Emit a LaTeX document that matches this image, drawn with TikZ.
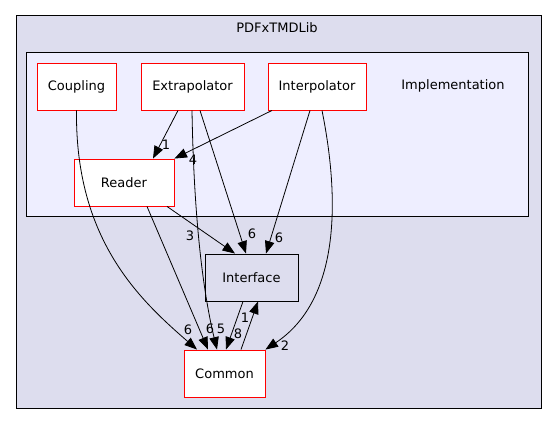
\documentclass[tikz,border=0pt]{standalone}
\usepackage{fontspec}
\setmainfont{DejaVu Sans}
\usetikzlibrary{arrows.meta}
\definecolor{outerbg}{HTML}{DDDDEE}
\definecolor{innerbg}{HTML}{EEEEFF}
\tikzset{
  dirbox/.style={rectangle, draw=red, fill=white, line width=0.9pt, minimum height=47pt, inner sep=0pt, font=\fontsize{13}{15}\selectfont},
  focusbox/.style={dirbox, draw=black, fill=outerbg},
  cluster/.style={draw=black, line width=0.8pt},
  dep/.style={-{Triangle[length=12.5pt,width=9.5pt]}, line width=0.8pt},
  elab/.style={inner sep=0pt, font=\fontsize{13}{15}\selectfont},
}

\begin{document}
\begin{tikzpicture}[x=1pt,y=-1pt]
  \useasboundingbox (0,0) rectangle (556,425);
  \draw[cluster, fill=outerbg] (16,15) rectangle (541,408);
  \node[elab] (libtitle) at (277,28) {PDFxTMDLib};
  \draw[cluster, fill=innerbg] (26,52) rectangle (528,216);
  \node[elab] (impltitle) at (453,86) {Implementation};

  \node[dirbox, minimum width=79pt] (coupling) at (76.5,86.5) {Coupling};
  \node[dirbox, minimum width=103pt] (extrap) at (192.5,86.5) {Extrapolator};
  \node[dirbox, minimum width=98pt] (interp) at (317,86.5) {Interpolator};
  \node[dirbox, minimum width=100pt] (reader) at (124,182.5) {Reader};
  \node[focusbox, minimum width=93pt] (iface) at (251.5,277.5) {Interface};
  \node[dirbox, minimum width=81pt] (common) at (224.5,373.5) {Common};

  \draw[dep] (coupling.south) .. controls (75,240) and (140,300) .. ([xshift=-27.5pt]common.north);
  \draw[dep] ([xshift=-14.5pt]extrap.south) -- ([xshift=29pt]reader.north);
  \draw[dep] ([xshift=-45pt]interp.south) -- (reader.north east);
  \draw[dep] ([xshift=-0.5pt]extrap.south) .. controls (194,230) and (205,300) .. ([xshift=-7.5pt]common.north);
  \draw[dep] ([xshift=7.5pt]extrap.south) -- ([xshift=-5.5pt]iface.north);
  \draw[dep] ([xshift=-7pt]interp.south) -- ([xshift=14.5pt]iface.north);
  \draw[dep] ([xshift=43pt]reader.south) -- ([xshift=-16.5pt]iface.north);
  \draw[dep] ([xshift=23pt]reader.south) -- ([xshift=-16.5pt]common.north);
  \draw[dep] ([xshift=-8.5pt]iface.south) -- ([xshift=1.5pt]common.north);
  \draw[dep] ([xshift=16.5pt]common.north) -- ([xshift=6.5pt]iface.south);
  \draw[dep] ([xshift=5pt]interp.south) .. controls (340,200) and (340,300) .. (common.north east);

  \node[elab] (l-cpl-cmn) at (188,330) {6};
  \node[elab] (l-ext-rdr) at (166,145) {1};
  \node[elab] (l-int-rdr) at (193,160) {4};
  \node[elab] (l-rdr-cmn) at (210,329) {6};
  \node[elab] (l-ext-cmn) at (221,329) {5};
  \node[elab] (l-ifc-cmn) at (238,334) {8};
  \node[elab] (l-cmn-ifc) at (245,318) {1};
  \node[elab] (l-rdr-ifc) at (190,236) {3};
  \node[elab] (l-ext-ifc) at (252,234) {6};
  \node[elab] (l-int-ifc) at (279,238) {6};
  \node[elab] (l-int-cmn) at (285,346) {2};
\end{tikzpicture}
\end{document}
